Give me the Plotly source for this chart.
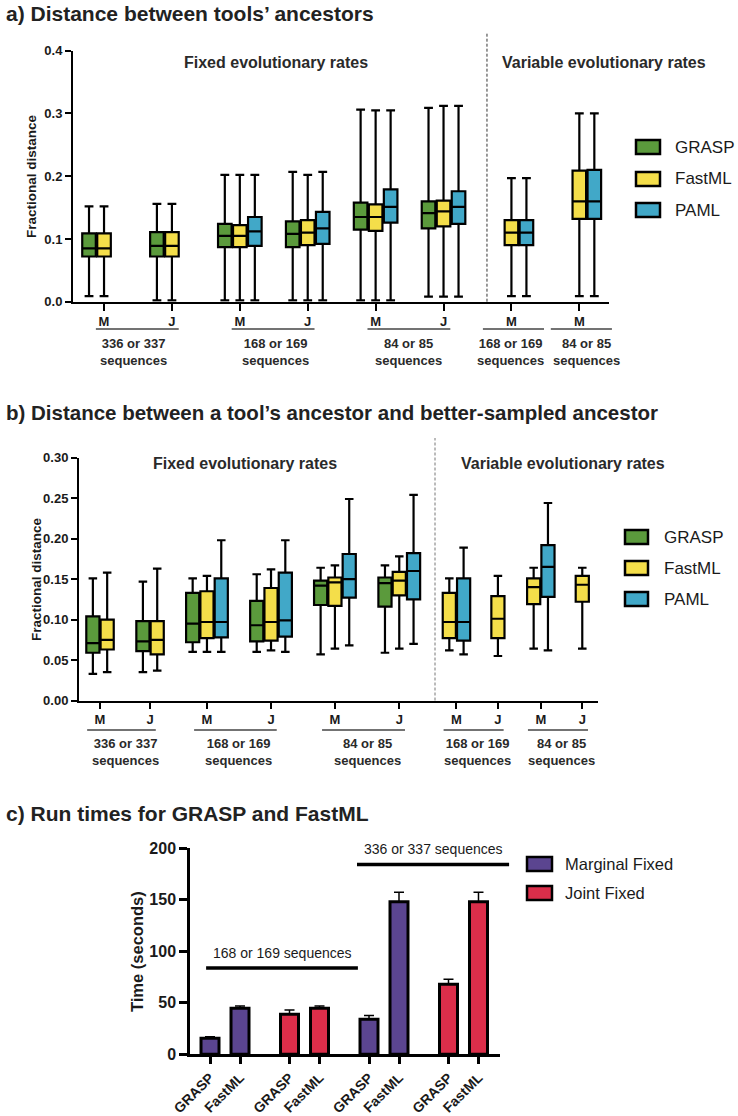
import plotly.graph_objects as go

FONT = "Liberation Sans, Arial, sans-serif"
W, H = 738, 1116

# ---------- data ----------
# panel a: (lower whisker, q1, median, q3, upper whisker) per group, None = no box
a_ticks = ["M", "J", "M", "J", "M", "J", "M", "M"]
a_grasp = [
    (0.009, 0.072, 0.085, 0.109, 0.152),
    (0.002, 0.072, 0.089, 0.111, 0.156),
    (0.002, 0.087, 0.105, 0.124, 0.202),
    (0.002, 0.087, 0.108, 0.128, 0.207),
    (0.002, 0.115, 0.135, 0.158, 0.306),
    (0.008, 0.117, 0.141, 0.160, 0.309),
    None, None,
]
a_fastml = [
    (0.009, 0.072, 0.085, 0.109, 0.152),
    (0.002, 0.072, 0.089, 0.111, 0.156),
    (0.002, 0.087, 0.105, 0.122, 0.202),
    (0.002, 0.090, 0.110, 0.130, 0.202),
    (0.002, 0.113, 0.135, 0.155, 0.305),
    (0.008, 0.120, 0.144, 0.161, 0.312),
    (0.009, 0.090, 0.110, 0.130, 0.197),
    (0.009, 0.132, 0.160, 0.209, 0.300),
]
a_paml = [
    None, None,
    (0.002, 0.089, 0.112, 0.135, 0.202),
    (0.002, 0.092, 0.117, 0.143, 0.207),
    (0.002, 0.126, 0.151, 0.179, 0.305),
    (0.008, 0.124, 0.151, 0.176, 0.312),
    (0.009, 0.090, 0.110, 0.130, 0.197),
    (0.009, 0.132, 0.160, 0.210, 0.300),
]
a_brackets = [(0, 1, "336 or 337<br>sequences"), (2, 3, "168 or 169<br>sequences"),
              (4, 5, "84 or 85<br>sequences"), (6, 6, "168 or 169<br>sequences"),
              (7, 7, "84 or 85<br>sequences")]

# panel b
b_ticks = ["M", "J"] * 5
b_grasp = [
    (0.033, 0.059, 0.071, 0.104, 0.151),
    (0.035, 0.061, 0.073, 0.098, 0.147),
    (0.060, 0.072, 0.095, 0.133, 0.151),
    (0.060, 0.073, 0.093, 0.123, 0.156),
    (0.057, 0.118, 0.142, 0.148, 0.164),
    (0.059, 0.116, 0.145, 0.152, 0.167),
    None, None, None, None,
]
b_fastml = [
    (0.035, 0.063, 0.075, 0.100, 0.158),
    (0.037, 0.057, 0.075, 0.098, 0.163),
    (0.060, 0.077, 0.097, 0.135, 0.154),
    (0.062, 0.074, 0.097, 0.139, 0.162),
    (0.064, 0.117, 0.146, 0.152, 0.167),
    (0.064, 0.130, 0.148, 0.159, 0.178),
    (0.062, 0.077, 0.097, 0.133, 0.151),
    (0.055, 0.077, 0.101, 0.129, 0.154),
    (0.064, 0.119, 0.140, 0.151, 0.164),
    (0.064, 0.122, 0.143, 0.154, 0.164),
]
b_paml = [
    None, None,
    (0.060, 0.078, 0.097, 0.151, 0.198),
    (0.060, 0.079, 0.099, 0.158, 0.198),
    (0.068, 0.127, 0.150, 0.181, 0.249),
    (0.070, 0.125, 0.160, 0.182, 0.254),
    (0.057, 0.074, 0.097, 0.151, 0.189),
    None,
    (0.062, 0.128, 0.165, 0.192, 0.244),
    None,
]
b_brackets = [(0, 1, "336 or 337<br>sequences"), (2, 3, "168 or 169<br>sequences"),
              (4, 5, "84 or 85<br>sequences"), (6, 7, "168 or 169<br>sequences"),
              (8, 9, "84 or 85<br>sequences")]

# panel c
c_ticks = ["GRASP", "FastML"]
c_marginal = [15.5, 44.6, 34.0, 148.0]
c_marginal_err = [1.5, 2.2, 3.5, 9.0]
c_joint = [38.8, 44.6, 68.0, 148.0]
c_joint_err = [4.2, 2.2, 4.7, 9.0]

tools = ["GRASP", "FastML", "PAML"]
tool_colors = ["#5B9A3C", "#F4DE4A", "#41A8C8"]
run_names = ["Marginal Fixed", "Joint Fixed"]
run_colors = ["#5B4590", "#DB2E4A"]


# ---------- layout helpers ----------
def px(x):
    return x / W


def py(y):
    return 1 - y / H


def to_paper(u, dom, rng):
    return dom[0] + (u - rng[0]) / (rng[1] - rng[0]) * (dom[1] - dom[0])


A_DOM_X, A_DOM_Y, A_RNG = (px(73), px(609)), (py(301.7), py(50.7)), (-0.457, 7.437)
B_DOM_X, B_DOM_Y, B_RNG = (px(79), px(598)), (py(700.5), py(457.7)), (0, 36.3)
C_DOM_X, C_DOM_Y, C_RNG = (px(190), px(500)), (py(1054.3), py(848)), (-0.667, 9.667)
b_centres = [1.47, 4.97, 8.95, 13.43, 17.9, 22.4, 26.4, 29.3, 32.3, 35.2]
a_label_centres = [0.44, 2.52, 4.49, 5.98, 7.1]
A_STEP = 0.221
A_SPLIT = 5.64
B_SPLIT = 24.9
C_PAIR = 2.65

fig = go.Figure()


def add_boxes(stats, xs, color, xa, ya, width):
    keep = [i for i, s in enumerate(stats) if s]
    fig.add_trace(go.Box(
        x=[xs[i] for i in keep],
        lowerfence=[stats[i][0] for i in keep],
        q1=[stats[i][1] for i in keep],
        median=[stats[i][2] for i in keep],
        q3=[stats[i][3] for i in keep],
        upperfence=[stats[i][4] for i in keep],
        fillcolor=color, line=dict(color="black", width=2.2),
        width=width, whiskerwidth=0.65, boxpoints=False,
        xaxis=xa, yaxis=ya, showlegend=False, hoverinfo="skip",
    ))


# panel a boxes: fixed slots (GRASP left, FastML centre, PAML right)
for t, stats in enumerate([a_grasp, a_fastml, a_paml]):
    xs = [g + (t - 1) * A_STEP for g in range(len(a_ticks))]
    add_boxes(stats, xs, tool_colors[t], "x", "y", 0.2)

# panel b boxes: present boxes centred on the tick
b_sets = [b_grasp, b_fastml, b_paml]
b_pos = [[None] * len(b_ticks) for _ in tools]
for g in range(len(b_ticks)):
    present = [t for t in range(3) if b_sets[t][g]]
    for k, t in enumerate(present):
        b_pos[t][g] = b_centres[g] + k - (len(present) - 1) / 2
for t in range(3):
    add_boxes(b_sets[t], b_pos[t], tool_colors[t], "x2", "y2", 0.92)

# panel c bars
c_x_m = [0, 1, 2 * C_PAIR, 2 * C_PAIR + 1]
c_x_j = [C_PAIR, C_PAIR + 1, 3 * C_PAIR, 3 * C_PAIR + 1]
for xs, vals, errs, col in [(c_x_m, c_marginal, c_marginal_err, run_colors[0]),
                            (c_x_j, c_joint, c_joint_err, run_colors[1])]:
    fig.add_trace(go.Bar(
        x=xs, y=vals, width=0.6,
        marker=dict(color=col, line=dict(color="black", width=3)),
        error_y=dict(type="data", array=errs, arrayminus=[0] * len(errs),
                     symmetric=False, color="black", thickness=1.5, width=5),
        xaxis="x3", yaxis="y3", showlegend=False, hoverinfo="skip",
    ))

axis_common = dict(showline=True, linecolor="black", showgrid=False, zeroline=False,
                   ticks="outside", tickcolor="black", automargin=False)
tick_bold = dict(family=FONT, size=13, color="#1a1a1a", weight="bold")

fig.update_layout(
    width=W, height=H, margin=dict(l=0, r=0, t=0, b=0, autoexpand=False),
    paper_bgcolor="white", plot_bgcolor="white",
    font=dict(family=FONT, color="#222"),
    showlegend=False, barmode="overlay",
    xaxis=dict(axis_common, domain=A_DOM_X, range=A_RNG, anchor="y", linewidth=2,
               tickwidth=2, ticklen=7, tickvals=list(range(len(a_ticks))),
               ticktext=a_ticks, tickfont=tick_bold),
    yaxis=dict(axis_common, domain=A_DOM_Y, range=[0, 0.4], anchor="x", linewidth=2,
               tickwidth=2, ticklen=6, dtick=0.1, tickformat=".1f", tickfont=tick_bold),
    xaxis2=dict(axis_common, domain=B_DOM_X, range=B_RNG, anchor="y2", linewidth=2,
                tickwidth=2, ticklen=6, tickvals=b_centres, ticktext=b_ticks,
                tickfont=tick_bold),
    yaxis2=dict(axis_common, domain=B_DOM_Y, range=[0, 0.3], anchor="x2", linewidth=2,
                tickwidth=2, ticklen=6, dtick=0.05, tickformat=".2f", tickfont=tick_bold),
    xaxis3=dict(axis_common, domain=C_DOM_X, range=C_RNG, anchor="y3", linewidth=2.5,
                tickwidth=2.5, ticklen=7, tickvals=c_x_m[:2] + c_x_j[:2] + c_x_m[2:] + c_x_j[2:],
                ticktext=c_ticks * 4, tickangle=-45,
                tickfont=dict(family=FONT, size=14, color="#1a1a1a", weight="bold")),
    yaxis3=dict(axis_common, domain=C_DOM_Y, range=[0, 200], anchor="x3", linewidth=2.5,
                tickwidth=2.5, ticklen=8, dtick=50,
                tickfont=dict(family=FONT, size=16, color="#1a1a1a", weight="bold")),
)

shapes = []
ann = []


def text(x, y, s, size, bold=False, xanchor="center", angle=0, color="#222"):
    ann.append(dict(x=x, y=y, xref="paper", yref="paper", text=s, showarrow=False,
                    xanchor=xanchor, yanchor="middle", textangle=angle,
                    font=dict(family=FONT, size=size, color=color,
                              weight="bold" if bold else "normal")))


# titles
text(px(4), py(13), "a) Distance between tools’ ancestors", 21, True, "left")
text(px(4), py(412), "b) Distance between a tool’s ancestor and better-sampled ancestor", 20.5, True, "left")
text(px(4), py(813), "c) Run times for GRASP and FastML", 21, True, "left")

# y-axis titles
text(px(32), py(176), "Fractional distance", 13.5, True, angle=-90, color="#1a1a1a")
text(px(36), py(579), "Fractional distance", 13.5, True, angle=-90, color="#1a1a1a")
text(px(137), py(952), "Time (seconds)", 16.5, True, angle=-90, color="#1a1a1a")

# section labels and split lines
text(px(276), py(62.5), "Fixed evolutionary rates", 16, True, color="#2a2a2a")
text(px(604), py(62.5), "Variable evolutionary rates", 16, True, color="#2a2a2a")
text(px(245), py(463), "Fixed evolutionary rates", 16, True, color="#2a2a2a")
text(px(563), py(463), "Variable evolutionary rates", 16, True, color="#2a2a2a")
xa = to_paper(A_SPLIT, A_DOM_X, A_RNG)
shapes.append(dict(type="line", xref="paper", yref="paper", x0=xa, x1=xa,
                   y0=A_DOM_Y[0], y1=py(32), line=dict(color="#333", width=1, dash="3px,2px")))
xb = to_paper(B_SPLIT, B_DOM_X, B_RNG)
shapes.append(dict(type="line", xref="paper", yref="paper", x0=xb, x1=xb,
                   y0=B_DOM_Y[0], y1=py(438), line=dict(color="#777", width=1, dash="3px,2px")))

# sequence brackets under panels a and b
for (i, j, s), lc in zip(a_brackets, a_label_centres):
    if i == j:
        x0, x1 = i - 0.42, i + 0.48
    else:
        x0, x1 = i - 0.12, j + 0.1
    shapes.append(dict(type="line", xref="paper", yref="paper",
                       x0=to_paper(x0, A_DOM_X, A_RNG), x1=to_paper(x1, A_DOM_X, A_RNG),
                       y0=py(329), y1=py(329), line=dict(color="#444", width=1.5)))
    text(to_paper(lc, A_DOM_X, A_RNG), py(351.5), s, 13, True, color="#2a2a2a")

for i, j, s in b_brackets:
    x0, x1 = b_centres[i] - 0.9, b_centres[j] + 0.4
    shapes.append(dict(type="line", xref="paper", yref="paper",
                       x0=to_paper(x0, B_DOM_X, B_RNG), x1=to_paper(x1, B_DOM_X, B_RNG),
                       y0=py(730), y1=py(730), line=dict(color="#444", width=1.5)))
    text(to_paper((b_centres[i] + b_centres[j]) / 2, B_DOM_X, B_RNG), py(751.5), s, 13, True,
         color="#2a2a2a")

# panel c sequence lines
for x0, x1, yv, ty, s in [(-0.13, 4.93, 83.6, 98, "168 or 169 sequences"),
                          (4.9, 9.97, 184, 199, "336 or 337 sequences")]:
    shapes.append(dict(type="line", xref="paper", yref="paper",
                       x0=to_paper(x0, C_DOM_X, C_RNG), x1=to_paper(x1, C_DOM_X, C_RNG),
                       y0=to_paper(yv, C_DOM_Y, (0, 200)), y1=to_paper(yv, C_DOM_Y, (0, 200)),
                       line=dict(color="black", width=3.5)))
    text(to_paper((x0 + x1) / 2, C_DOM_X, C_RNG), to_paper(ty, C_DOM_Y, (0, 200)), s, 14,
         color="#1a1a1a")


# legends
def legend(names, colors, x0, x1, ys, tx, size):
    for n, c, y in zip(names, colors, ys):
        shapes.append(dict(type="rect", xref="paper", yref="paper",
                           x0=px(x0), x1=px(x1), y0=py(y + 7), y1=py(y - 7),
                           fillcolor=c, line=dict(color="black", width=2.5)))
        text(px(tx), py(y), n, size, xanchor="left", color="#1a1a1a")


legend(tools, tool_colors, 636, 660, [147, 179, 210], 673, 17)
legend(tools, tool_colors, 625, 648, [537, 568, 599], 662, 17)
legend(run_names, run_colors, 527, 552, [864, 893], 563, 16.5)

fig.update_layout(shapes=shapes, annotations=ann)
fig.write_html(
    "out.html",
    config={"displayModeBar": False},
    post_script="document.body.style.margin='0';document.body.style.padding='0';"
                "document.body.style.overflow='hidden';",
)
